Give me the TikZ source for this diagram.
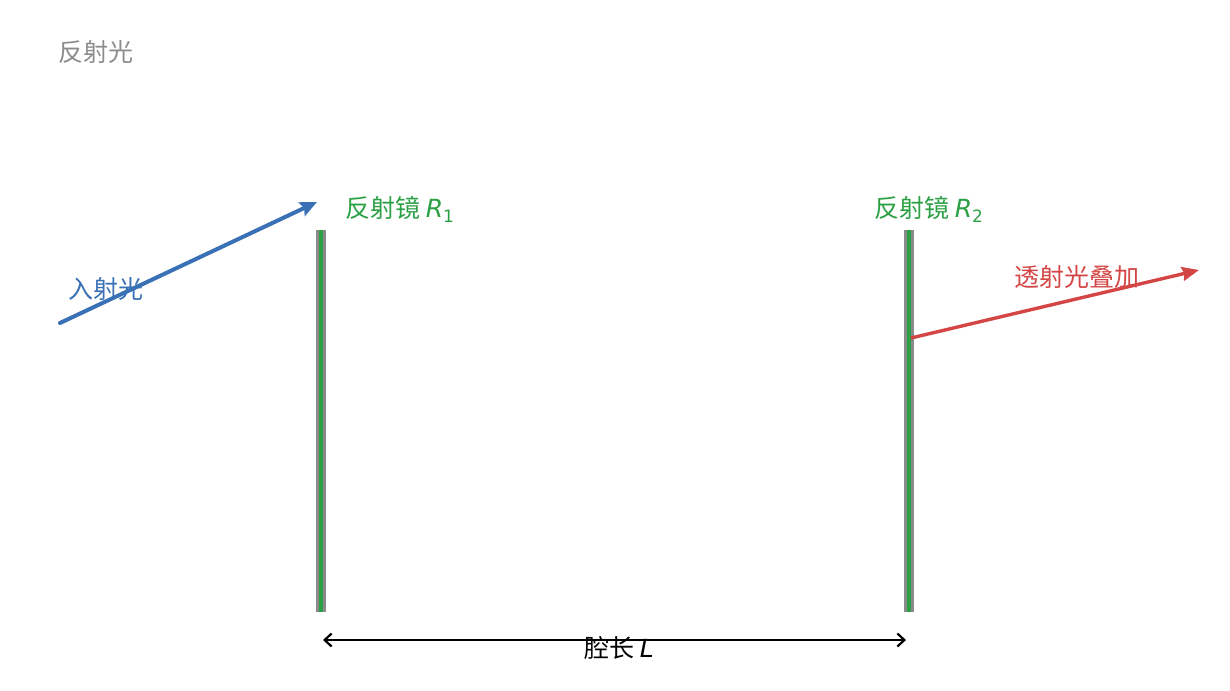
\documentclass[tikz,border=0pt]{standalone}
\usepackage{fontspec}
\setmainfont{Noto Sans CJK SC}
\newfontfamily\lat{DejaVu Sans}
\usetikzlibrary{arrows.meta}
\definecolor{mgreen}{HTML}{2CA044}
\definecolor{mgray}{HTML}{8A8A8A}
\definecolor{iblue}{HTML}{3A70B6}
\definecolor{tred}{HTML}{D44545}
\definecolor{lgray}{HTML}{8C8C8C}
\newcommand{\Rsub}[1]{{\lat\itshape R}\raisebox{-0.2em}{\lat\fontsize{17}{20}\selectfont #1}}
\tikzset{
  lbl/.style={inner sep=0pt, font=\fontsize{25}{29}\selectfont},
  mirror/.style={rectangle, fill=mgray, minimum width=10pt, minimum height=382pt, inner sep=0pt,
    path picture={\fill[mgreen] ([xshift=-2pt]path picture bounding box.south) rectangle ([xshift=2pt]path picture bounding box.north);}},
  beamin/.style={iblue, line width=4pt, line cap=round, -{Stealth[length=17pt,width=15pt,inset=3pt]}},
  beamout/.style={tred, line width=3.4pt, -{Stealth[length=17pt,width=14pt,inset=2pt]}},
  dim/.style={black, line width=2.2pt, {Straight Barb[length=7pt,width=13pt]}-{Straight Barb[length=7pt,width=13pt]}}
}
\begin{document}
\begin{tikzpicture}[x=1pt,y=-1pt]
\useasboundingbox (0,0) rectangle (1230,690);
% mirrors
\node[mirror] (m1) at (320.5,421) {};
\node[mirror] (m2) at (909,421) {};
% labels
\node[lbl, text=lgray] (refl) at (96,52) {反射光};
\node[lbl, text=mgreen, anchor=west] (r1) at (345,209) {反射镜 \Rsub{1}};
\node[lbl, text=mgreen, anchor=west] (r2) at (874,209) {反射镜 \Rsub{2}};
\node[lbl, text=iblue] (inc) at (106,289) {入射光};
\node[lbl, text=tred] (tr) at (1077,277) {透射光叠加};
% incident beam
\coordinate (inS) at (60,323);
\coordinate (inE) at (317,202);
\draw[beamin] (inS) -- (inE);
% transmitted beam
\coordinate (trS) at (911,338);
\coordinate (trE) at (1199,270);
\draw[beamout] (trS) -- (trE);
% cavity length
\coordinate (dA) at (323,640);
\coordinate (dB) at (906,640);
\draw[dim] (dA) -- (dB);
\node[lbl, text=black] (cav) at (619,648) {腔长 {\lat\itshape L}};
\end{tikzpicture}
\end{document}
